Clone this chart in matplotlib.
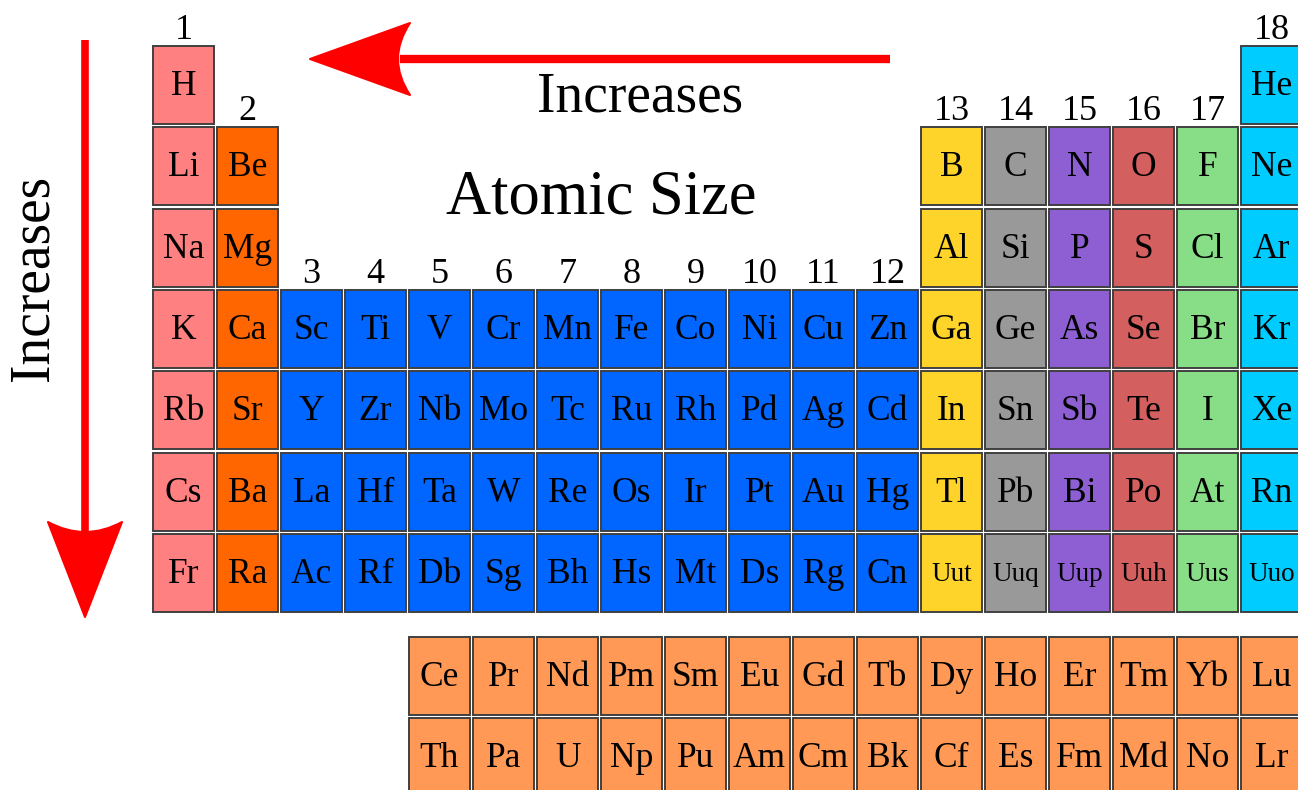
import matplotlib
matplotlib.use('Agg')
import matplotlib.pyplot as plt
from matplotlib.patches import Rectangle, PathPatch
from matplotlib.path import Path

# 各周期元素 (列号, 符号)
period_rows = [
    ['H'] + [''] * 16 + ['He'],
    ['Li', 'Be'] + [''] * 10 + ['B', 'C', 'N', 'O', 'F', 'Ne'],
    ['Na', 'Mg'] + [''] * 10 + ['Al', 'Si', 'P', 'S', 'Cl', 'Ar'],
    ['K', 'Ca', 'Sc', 'Ti', 'V', 'Cr', 'Mn', 'Fe', 'Co', 'Ni', 'Cu', 'Zn',
     'Ga', 'Ge', 'As', 'Se', 'Br', 'Kr'],
    ['Rb', 'Sr', 'Y', 'Zr', 'Nb', 'Mo', 'Tc', 'Ru', 'Rh', 'Pd', 'Ag', 'Cd',
     'In', 'Sn', 'Sb', 'Te', 'I', 'Xe'],
    ['Cs', 'Ba', 'La', 'Hf', 'Ta', 'W', 'Re', 'Os', 'Ir', 'Pt', 'Au', 'Hg',
     'Tl', 'Pb', 'Bi', 'Po', 'At', 'Rn'],
    ['Fr', 'Ra', 'Ac', 'Rf', 'Db', 'Sg', 'Bh', 'Hs', 'Mt', 'Ds', 'Rg', 'Cn',
     'Uut', 'Uuq', 'Uup', 'Uuh', 'Uus', 'Uuo'],
]
lanthanides = ['Ce', 'Pr', 'Nd', 'Pm', 'Sm', 'Eu', 'Gd', 'Tb', 'Dy', 'Ho',
               'Er', 'Tm', 'Yb', 'Lu']
actinides = ['Th', 'Pa', 'U', 'Np', 'Pu', 'Am', 'Cm', 'Bk', 'Cf', 'Es',
             'Fm', 'Md', 'No', 'Lr']

# 族颜色 (1..18)
group_colors = ['#FF8080', '#FF6600'] + ['#0066FF'] * 10 + \
    ['#FFD42A', '#999999', '#8D5FD3', '#D35F5F', '#87DE87', '#00CCFF']
f_block_color = '#FF9955'

# 族号所在的行 (标签放在该行上方)
group_numbers = list(range(1, 19))
group_label_row = [0, 1] + [3] * 10 + [1] * 5 + [0]

systematic = {'Uut', 'Uuq', 'Uup', 'Uuh', 'Uus', 'Uuo'}

W, H = 1298, 790
PX, PY = 64.0, 81.3      # 格子间距 (像素)
X0, Y0 = 153.0, 46.0     # 第一格左上角
CW, CH = 61.0 / PX, 78.0 / PY
F_ROW0 = (637.0 - Y0) / PY

plt.rcParams['font.family'] = ['Liberation Serif', 'DejaVu Serif']

fig = plt.figure(figsize=(W / 100, H / 100), dpi=100)
ax = fig.add_axes([0, 0, 1, 1])
ax.set_xlim(-X0 / PX, (W - X0) / PX)
ax.set_ylim((H - Y0) / PY, -Y0 / PY)
ax.axis('off')


def draw_cell(col, row, sym, color):
    ax.add_patch(Rectangle((col, row), CW, CH, facecolor=color,
                           edgecolor='#404040', lw=1.4))
    size = 19.5 if sym in systematic else 25.5
    ax.text(col + CW / 2, row + CH / 2 + 0.02, sym, ha='center', va='center',
            fontsize=size, color='black')


for r, row in enumerate(period_rows):
    for c, sym in enumerate(row):
        if sym:
            draw_cell(c, r, sym, group_colors[c])

for i, sym in enumerate(lanthanides):
    draw_cell(4 + i, F_ROW0, sym, f_block_color)
for i, sym in enumerate(actinides):
    draw_cell(4 + i, F_ROW0 + 1, sym, f_block_color)

for g, r in zip(group_numbers, group_label_row):
    ax.text(g - 1 + CW / 2, r + 0.01, str(g), ha='center', va='bottom',
            fontsize=26)

# 箭头与标题 (像素坐标叠加层)
ov = fig.add_axes([0, 0, 1, 1])
ov.set_xlim(0, W)
ov.set_ylim(H, 0)
ov.axis('off')
red = '#FF0000'

ov.plot([400, 890], [59, 59], color=red, lw=6, solid_capstyle='butt')
head_h = Path([(310, 59), (410, 23), (386, 59), (410, 95), (310, 59)],
              [Path.MOVETO, Path.LINETO, Path.CURVE3, Path.CURVE3, Path.CLOSEPOLY])
ov.add_patch(PathPatch(head_h, facecolor=red, edgecolor=red, lw=1.5,
                       joinstyle='round'))

ov.plot([85, 85], [40, 535], color=red, lw=5.5, solid_capstyle='butt')
head_v = Path([(85, 617), (48, 522), (85, 542), (122, 522), (85, 617)],
              [Path.MOVETO, Path.LINETO, Path.CURVE3, Path.CURVE3, Path.CLOSEPOLY])
ov.add_patch(PathPatch(head_v, facecolor=red, edgecolor=red, lw=1.5,
                       joinstyle='round'))

ov.text(640, 98, 'Increases', ha='center', va='center', fontsize=40)
ov.text(601, 199, 'Atomic Size', ha='center', va='center', fontsize=45)
ov.text(34, 278, 'Increases', ha='center', va='center', fontsize=40,
        rotation=90)

fig.savefig('out.png', dpi=100)
